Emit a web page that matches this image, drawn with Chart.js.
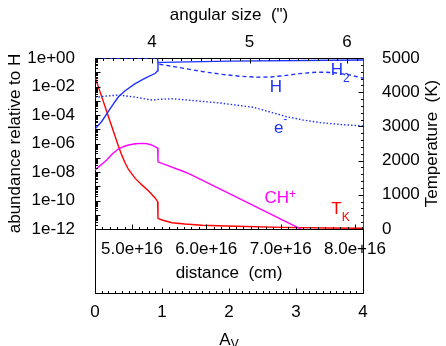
<!DOCTYPE html>
<html><head><meta charset="utf-8">
<script src="https://cdn.jsdelivr.net/npm/chart.js@4.4.1/dist/chart.umd.min.js"></script>
<style>html,body{margin:0;padding:0;background:#fff}#c{display:block}</style>
</head><body><canvas id="c" width="446" height="346"></canvas>
<script>
// ---- tick labels ----
const avTicks = [0, 1, 2, 3, 4];
const distTicks = [5e16, 6e16, 7e16, 8e16];
const angTicks = [4, 5, 6];
const tempTicks = [0, 1000, 2000, 3000, 4000, 5000];
const abTicks = [1, 1e-2, 1e-4, 1e-6, 1e-8, 1e-10, 1e-12];

// ---- series (x = A_V) ----
const tkAv  = [0, 0.1, 0.2, 0.3, 0.35, 0.4, 0.45, 0.5, 0.6, 0.7, 0.8, 0.9, 0.935, 0.94, 1.0, 1.15, 1.34, 1.6, 2.1, 2.8, 3.5, 4.0];
const tkVal = [4444, 3870, 3290, 2710, 2420, 2160, 1930, 1740, 1480, 1290, 1110, 900, 798, 313, 263, 184, 146, 108, 79, 47, 29, 20];

const chAv  = [0, 0.175, 0.26, 0.348, 0.43, 0.5, 0.6, 0.7, 0.78, 0.85, 0.92, 0.935, 0.94, 1.37, 1.87, 2.6, 3.02, 3.3];
const chVal = [1.38e-8, 6.9e-8, 1.9e-7, 4.1e-7, 6.2e-7, 7.8e-7, 0.95e-6, 1.02e-6, 0.96e-6, 7.8e-7, 5.2e-7, 4.8e-7, 5.2e-8, 8.9e-9, 6.2e-10, 1.26e-11, 1.32e-12, 2.5e-13];

const h2Av  = [0, 0.1, 0.2, 0.3, 0.35, 0.45, 0.6, 0.75, 0.9, 0.935, 0.94, 1.0, 2.0, 4.0];
const h2Val = [1.05e-5, 3.5e-5, 1.8e-4, 8.9e-4, 1.9e-3, 5.0e-3, 1.6e-2, 3.8e-2, 8.5e-2, 0.126, 0.47, 0.49, 0.6, 0.72];

const hAv  = [0, 0.935, 0.94, 1.2, 1.6, 1.9, 2.15, 2.4, 2.6, 2.8, 3.05, 3.3, 3.45, 3.6, 3.8, 4.0];
const hVal = [0.99, 0.99, 0.38, 0.24, 0.112, 0.071, 0.053, 0.045, 0.046, 0.056, 0.08, 0.1, 0.1, 0.089, 0.065, 0.038];

const eAv  = [0, 0.15, 0.35, 0.6, 0.85, 0.935, 1.15, 1.5, 1.87, 2.1, 2.36, 2.6, 2.86, 3.1, 3.36, 3.7, 4.0];
const eVal = [1.7e-3, 2.1e-3, 2.5e-3, 1.8e-3, 1.12e-3, 1.23e-3, 1.38e-3, 1.0e-3, 6.9e-4, 5.0e-4, 3.5e-4, 1.7e-4, 7.6e-5, 4.5e-5, 2.9e-5, 2.1e-5, 1.7e-5];

const FONT = '"Liberation Sans", Arial, Helvetica, sans-serif';
const BLUE = 'rgb(30,50,255)', RED = '#ff0000', MAG = '#ff00ff';
const pts = (xs, ys) => xs.map((x, i) => ({x, y: ys[i]}));
const setTicks = arr => s => { s.ticks = arr.map(v => ({value: v})); };

const labels = [
  {scale: 'y',  x: 3.52, y: 10 ** -1.19,  parts: [['H', 17, 0], ['2', 12, 6.7]], color: BLUE},
  {scale: 'y',  x: 2.61, y: 10 ** -2.39,  parts: [['H', 17, 0]], color: BLUE},
  {scale: 'y',  x: 2.67, y: 10 ** -5.26,  parts: [['e', 17, 0], ['-', 12, -10]], color: BLUE},
  {scale: 'y',  x: 2.53, y: 10 ** -10.17, parts: [['CH', 17, 0], ['+', 12, -5]], color: MAG},
  {scale: 'yT', x: 3.527, y: 440,         parts: [['T', 17, 0], ['K', 12, 6.7]], color: RED}
];

const frame = {
  id: 'frame',
  afterDraw(chart) {
    const {ctx, chartArea: a, scales: s} = chart;
    const P = v => Math.round(v) + 0.5;
    ctx.save();
    ctx.lineWidth = 1; ctx.strokeStyle = '#000';
    const yb = s.x.top;
    ctx.beginPath();
    ctx.moveTo(P(a.left), a.bottom); ctx.lineTo(P(a.left), P(yb));
    ctx.moveTo(P(a.right), a.bottom); ctx.lineTo(P(a.right), P(yb));
    const hT = (sc, v, y, dir, len) => {
      const px = P(sc.getPixelForValue(v));
      if (px < a.left - 1 || px > a.right + 1) return;
      ctx.moveTo(px, y); ctx.lineTo(px, y + dir * len);
    };
    const vT = (sc, v, x, dir, len) => {
      const py = P(sc.getPixelForValue(v));
      if (py < a.top - 1 || py > a.bottom + 1) return;
      ctx.moveTo(x, py); ctx.lineTo(x + dir * len, py);
    };
    for (let i = 0; i <= 40; i++) hT(s.x, i / 10, P(yb), -1, i % 10 ? 2.5 : 5);
    for (let i = 45; i <= 81; i++) hT(s.xDist, i * 1e15, P(a.bottom), -1, i % 10 ? 2.5 : 5);
    for (let i = 34; i <= 62; i++) hT(s.xAng, i / 10, P(a.top), 1, i % 10 ? 2.5 : 5);
    for (let e = -12; e <= 0; e++) {
      vT(s.y, 10 ** e, P(a.left), 1, 5);
      if (e < 0) for (let k = 2; k <= 9; k++) vT(s.y, k * 10 ** e, P(a.left), 1, 2.5);
    }
    for (let i = 0; i <= 25; i++) vT(s.yT, i * 200, P(a.right), -1, i % 5 ? 2.5 : 5);
    ctx.stroke();

    ctx.fillStyle = '#000';
    ctx.font = '17px ' + FONT;
    ctx.textAlign = 'center'; ctx.textBaseline = 'middle';
    ctx.save();
    ctx.translate(432, (a.top + a.bottom) / 2);
    ctx.rotate(-Math.PI / 2);
    ctx.fillText('Temperature  (K)', 0, 0);
    ctx.restore();

    ctx.textAlign = 'left'; ctx.textBaseline = 'alphabetic';
    const drawParts = (x, y, parts) => {
      for (const [t, sz, dy] of parts) {
        ctx.font = sz + 'px ' + FONT;
        ctx.fillText(t, x, y + dy);
        x += ctx.measureText(t).width;
      }
    };
    const cx = (a.left + a.right) / 2;
    ctx.font = '17px ' + FONT;
    const wA = ctx.measureText('A').width; ctx.font = '12px ' + FONT;
    const wV = ctx.measureText('V').width;
    drawParts(cx - (wA + wV) / 2, 345, [['A', 17, 0], ['V', 12, 3]]);

    for (const L of labels) {
      ctx.fillStyle = L.color;
      drawParts(s.x.getPixelForValue(L.x), s[L.scale].getPixelForValue(L.y), L.parts);
    }
    ctx.restore();
  }
};

Chart.defaults.font.family = FONT;
Chart.defaults.font.size = 17;
Chart.defaults.color = '#000';

const ds = (label, xs, ys, color, axis, dash) => ({
  label, data: pts(xs, ys), borderColor: color, borderWidth: 1.4,
  borderDash: dash || [], yAxisID: axis, xAxisID: 'x', pointRadius: 0,
  fill: false, tension: 0
});

new Chart(document.getElementById('c'), {
  type: 'line',
  data: {
    datasets: [
      ds('e-', eAv, eVal, BLUE, 'y', [1.5, 2]),
      ds('H', hAv, hVal, BLUE, 'y', [4, 3]),
      ds('H2', h2Av, h2Val, BLUE, 'y'),
      ds('CH+', chAv, chVal, MAG, 'y'),
      ds('TK', tkAv, tkVal, RED, 'yT')
    ]
  },
  plugins: [frame],
  options: {
    responsive: false, animation: false, devicePixelRatio: 1,
    layout: {padding: 0},
    plugins: {legend: {display: false}, tooltip: {enabled: false}},
    scales: {
      x: {
        type: 'linear', position: 'bottom', weight: 1, min: 0, max: 4,
        afterBuildTicks: setTicks(avTicks),
        afterFit: s => { s.height = 53; },
        grid: {display: false}, border: {display: true, color: '#000', width: 1},
        ticks: {padding: 1, maxRotation: 0, autoSkip: false, callback: v => String(v)}
      },
      xDist: {
        type: 'linear', position: 'bottom', weight: 0, min: 4.502e16, max: 8.108e16,
        afterBuildTicks: setTicks(distTicks),
        afterFit: s => { s.height = 64; },
        grid: {display: false}, border: {display: true, color: '#000', width: 1},
        ticks: {padding: 2, maxRotation: 0, autoSkip: false, callback: v => v.toExponential(1)},
        title: {display: true, text: 'distance  (cm)', padding: {top: 0, bottom: 9}}
      },
      xAng: {
        type: 'linear', position: 'top', min: 3.4154, max: 6.164,
        afterBuildTicks: setTicks(angTicks),
        afterFit: s => { s.height = 58; },
        grid: {display: false}, border: {display: true, color: '#000', width: 1},
        ticks: {padding: -3, maxRotation: 0, autoSkip: false, callback: v => String(v)},
        title: {display: true, text: 'angular size  (")', padding: {top: 5, bottom: 0}}
      },
      y: {
        type: 'logarithmic', position: 'left', min: 1e-12, max: 1,
        afterBuildTicks: setTicks(abTicks),
        afterFit: s => { s.width = 95; },
        grid: {display: false}, border: {display: true, color: '#000', width: 1},
        ticks: {padding: 12, autoSkip: false, callback: v => {
          const e = Math.round(Math.log10(v));
          return '1e' + (e < 0 ? '-' : '+') + String(Math.abs(e)).padStart(2, '0');
        }},
        title: {display: true, text: 'abundance relative to H', padding: {top: 5, bottom: 0}}
      },
      yT: {
        type: 'linear', position: 'right', min: 0, max: 5000,
        afterBuildTicks: setTicks(tempTicks),
        afterFit: s => { s.width = 83; },
        grid: {display: false}, border: {display: true, color: '#444', width: 1},
        ticks: {padding: 11, autoSkip: false, callback: v => String(v)}
      }
    }
  }
});
</script></body></html>
